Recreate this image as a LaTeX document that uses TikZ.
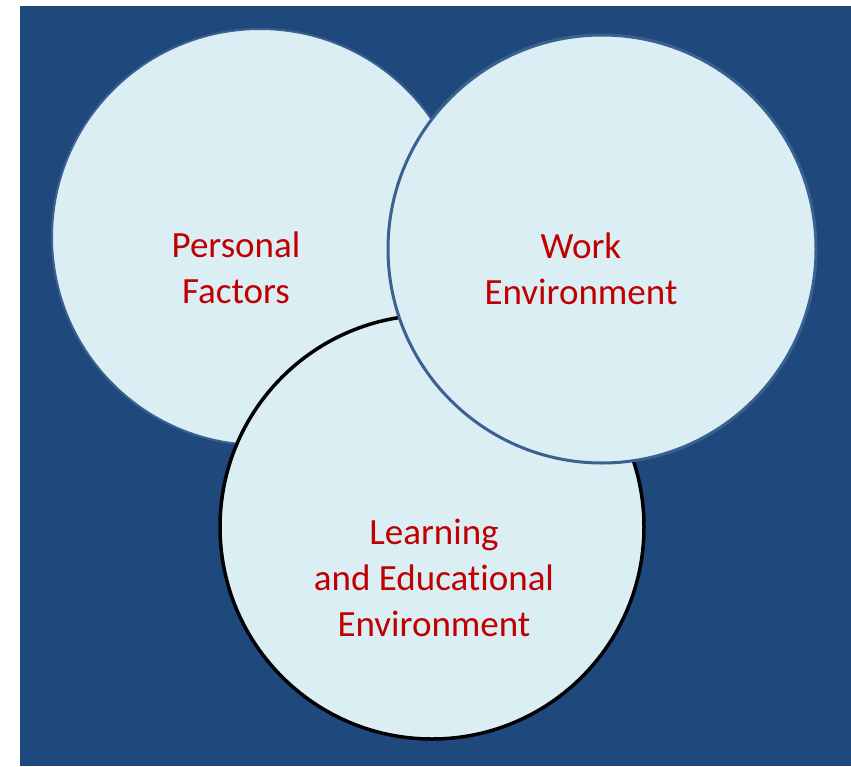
\documentclass[tikz,border=0pt]{standalone}
\usepackage{fontspec}
\setmainfont{Carlito}[Ligatures=NoCommon]
\definecolor{panelblue}{HTML}{1F497D}
\definecolor{bubblefill}{HTML}{DBEEF4}
\definecolor{rimblue}{HTML}{3B6092}
\definecolor{labelred}{HTML}{C00000}
\begin{document}
\begin{tikzpicture}[x=1pt,y=-1pt,
  bubble/.style={circle, inner sep=0pt, fill=bubblefill},
  caption/.style={anchor=base, text=labelred, inner sep=0pt,
    font=\fontsize{37}{46}\selectfont}]
\useasboundingbox (0,0) rectangle (851,766);
\fill[white] (0,0) rectangle (851,766);
\fill[panelblue] (20,6) rectangle (851,766);
% three overlapping circles, back to front
\node[bubble, draw=rimblue, line width=2pt, minimum size=416pt] (personal) at (260,237) {};
\node[bubble, draw=black, line width=3.5pt, minimum size=424pt] (learning) at (432,527) {};
\node[bubble, draw=rimblue, line width=3pt, minimum size=428pt] (work) at (602,249) {};
% labels
\node[caption] (personalText) at (236,257) {\begin{tabular}[t]{@{}c@{}}Personal\\Factors\end{tabular}};
\node[caption] (workText) at (581,258) {\begin{tabular}[t]{@{}c@{}}Work\\Environment\end{tabular}};
\node[caption] (learningText) at (434,544) {\begin{tabular}[t]{@{}c@{}}Learning\\and Educational\\Environment\end{tabular}};
\end{tikzpicture}
\end{document}
